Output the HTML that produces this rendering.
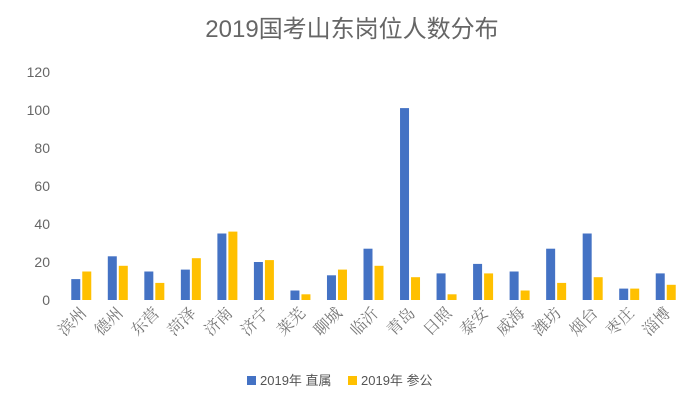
<!DOCTYPE html>
<html><head><meta charset="utf-8"><style>
html,body{margin:0;padding:0;background:#fff;}
svg{display:block;}
</style></head><body>
<svg id="chart" width="700" height="404" xmlns="http://www.w3.org/2000/svg">
<text x="352" y="37" text-anchor="middle" font-family="Liberation Sans, Noto Sans CJK SC, sans-serif" font-size="24" fill="#666">2019国考山东岗位人数分布</text>
<g id="yaxis"></g>
<g id="bars"></g>
<g id="xaxis"></g>
<g>
<rect x="247" y="376" width="9" height="9" fill="#4472c4"/>
<text x="260" y="385" font-family="Liberation Sans, Noto Sans CJK SC, sans-serif" font-size="13" fill="#555">2019年 直属</text>
<rect x="348" y="376" width="9" height="9" fill="#ffc000"/>
<text x="361" y="385" font-family="Liberation Sans, Noto Sans CJK SC, sans-serif" font-size="13" fill="#555">2019年 参公</text>
</g>
</svg>
<script>
const categories=["滨州","德州","东营","菏泽","济南","济宁","莱芜","聊城","临沂","青岛","日照","泰安","威海","潍坊","烟台","枣庄","淄博"];
const directValues=[11,23,15,16,35,20,5,13,27,101,14,19,15,27,35,6,14];
const localValues=[15,18,9,22,36,21,3,16,18,12,3,14,5,9,12,6,8];
const yTicks=[0,20,40,60,80,100,120];
const NS="http://www.w3.org/2000/svg";
const x0=63,x1=684,y0=300,y1=72,yMax=120;
const band=(x1-x0)/categories.length;
function xScale(i){return x0+band*(i+0.5);}
function yScale(v){return y0-(v/yMax)*(y0-y1);}
function mk(tag,attrs,parent){const e=document.createElementNS(NS,tag);for(const k in attrs)e.setAttribute(k,attrs[k]);parent.appendChild(e);return e;}
const ya=document.getElementById('yaxis'),bg=document.getElementById('bars'),xa=document.getElementById('xaxis');
yTicks.forEach(t=>{
 const tx=mk('text',{x:50,y:yScale(t)+5,'text-anchor':'end','font-family':'Liberation Sans, sans-serif','font-size':'14',fill:'#666'},ya);
 
 
 tx.textContent=t;
});
const bw=9,gap=2;
categories.forEach((c,i)=>{
 const cx=xScale(i);
 const b=mk('rect',{x:cx-gap/2-bw,y:yScale(directValues[i]),width:bw,height:y0-yScale(directValues[i]),fill:'#4472c4'},bg);
 
 
 const b2=mk('rect',{x:cx+gap/2,y:yScale(localValues[i]),width:bw,height:y0-yScale(localValues[i]),fill:'#ffc000'},bg);
 
 
 const lx=cx+6,ly=314;
 const t=mk('text',{x:lx,y:ly,'text-anchor':'end','font-family':'Liberation Serif, Noto Serif CJK SC, serif','font-size':'16',fill:'#777',transform:`rotate(-45 ${lx} ${ly})`},xa);
 
 
 t.textContent=c;
});
</script>
</body></html>
